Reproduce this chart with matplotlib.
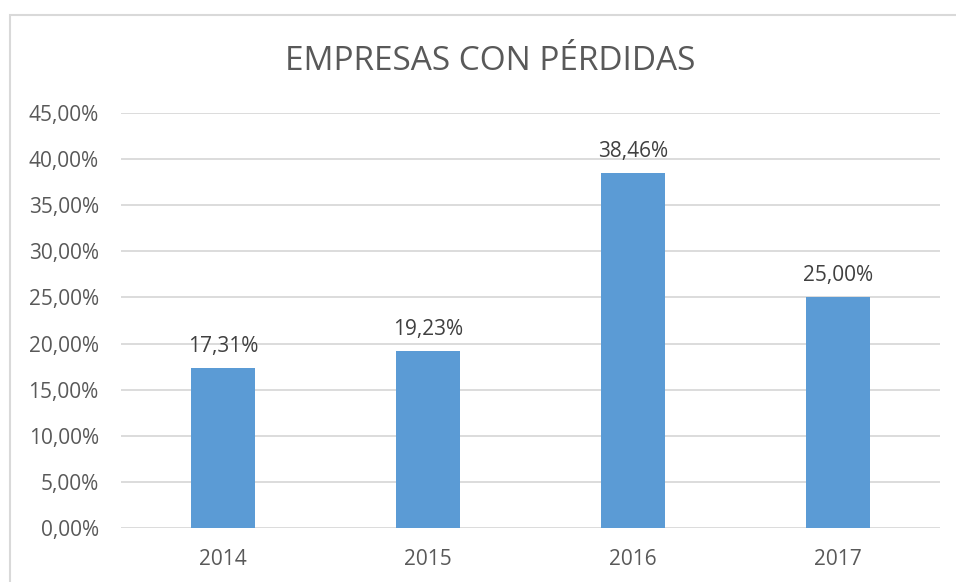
import matplotlib.pyplot as plt
from matplotlib.patches import Rectangle

years = ["2014", "2015", "2016", "2017"]
values = [17.31, 19.23, 38.46, 25.00]
yticks = [0, 5, 10, 15, 20, 25, 30, 35, 40, 45]

text_color = "#595959"
label_color = "#404040"
grid_color = "#d9d9d9"
bar_color = "#5b9bd5"

plt.rcParams['font.family'] = ['Open Sans', 'DejaVu Sans']

fig = plt.figure(figsize=(9.56, 5.82), dpi=100)
ax = fig.add_axes([121 / 956, 1 - 528 / 582, (940 - 121) / 956, (528 - 113) / 582])

# chart frame, only left and top visible in the reference
fig.patches.append(Rectangle((10 / 956, -0.1), 1.2, 1 - 15 / 582 + 0.1,
                             transform=fig.transFigure, fill=False,
                             edgecolor=grid_color, linewidth=1.5))

x = range(len(years))
bars = ax.bar(x, values, width=0.3125, color=bar_color, zorder=3)

for xi, v in zip(x, values):
    ax.annotate(f"{v:.2f}%".replace(".", ","), (xi, v), xytext=(0, 11.5),
                textcoords="offset points", ha="center", va="baseline",
                fontsize=15, color=label_color)

ax.set_xlim(-0.5, len(years) - 0.5)
ax.set_ylim(0, 45)
ax.set_yticks(yticks)
ax.set_yticklabels([f"{t:.2f}%".replace(".", ",") for t in yticks])
ax.set_xticks(list(x))
ax.set_xticklabels(years)
ax.tick_params(length=0, labelsize=15, labelcolor=text_color)
ax.tick_params(axis="y", pad=16)
ax.tick_params(axis="x", pad=15)
ax.yaxis.grid(True, color=grid_color, linewidth=1.3, zorder=0)
ax.set_axisbelow(True)
for s in ax.spines.values():
    s.set_visible(False)

fig.text(490 / 956, 1 - 70 / 582, "EMPRESAS CON PÉRDIDAS", ha="center", va="baseline",
         fontsize=24, color=text_color)

fig.savefig("out.png", dpi=100)
